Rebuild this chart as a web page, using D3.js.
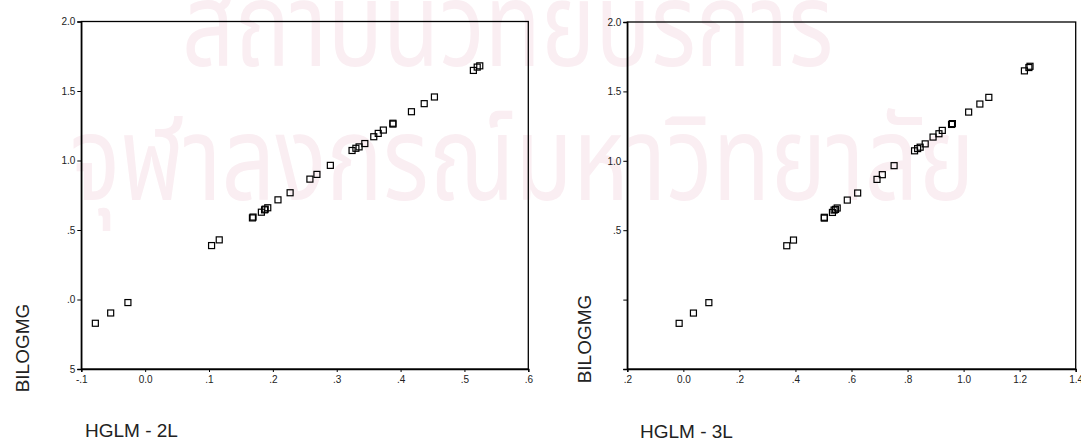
<!DOCTYPE html>
<html>
<head>
<meta charset="utf-8">
<script src="https://cdn.jsdelivr.net/npm/d3@7"></script>
<style>
  html, body { margin: 0; padding: 0; background: #fff; }
  svg { display: block; }
  .tick text { font-family: "Liberation Sans", Arial, sans-serif; font-size: 10px; fill: #222; }
  .title { font-family: "Liberation Sans", Arial, sans-serif; font-size: 19px; fill: #222; }
  .wm { font-family: "Noto Sans Thai", "Noto Sans", "Loma", "Garuda", "Norasi", sans-serif; font-size: 118px; fill: #faeef2; }
</style>
</head>
<body>
<svg id="chart" width="1081" height="442"></svg>
<script>
// BILOGMG score, shared by both panels (sorted ascending)
const bilogmg = [-0.171, -0.097, -0.022, 0.388, 0.429, 0.587, 0.593, 0.628, 0.645, 0.650,
  0.660, 0.717, 0.768, 0.866, 0.900, 0.965, 1.072, 1.088, 1.098, 1.122,
  1.171, 1.195, 1.219, 1.262, 1.268, 1.351, 1.409, 1.457, 1.648, 1.672, 1.681];

// Two-level HGLM estimates
const hglm2L = [-0.078, -0.054, -0.027, 0.104, 0.116, 0.168, 0.169, 0.182, 0.187, 0.188,
  0.192, 0.208, 0.227, 0.258, 0.269, 0.290, 0.324, 0.330, 0.335, 0.344,
  0.358, 0.365, 0.373, 0.388, 0.388, 0.417, 0.437, 0.453, 0.514, 0.520, 0.524];

// Three-level HGLM estimates
const hglm3L = [-0.015, 0.036, 0.091, 0.369, 0.393, 0.503, 0.503, 0.532, 0.538, 0.543,
  0.549, 0.585, 0.622, 0.691, 0.710, 0.752, 0.825, 0.836, 0.845, 0.863,
  0.891, 0.912, 0.924, 0.957, 0.960, 1.018, 1.058, 1.090, 1.217, 1.233, 1.237];

// Axis ticks and their printed labels
const yTicks = [-0.5, 0, 0.5, 1.0, 1.5, 2.0];
const yLabels2L = ["5", ".0", ".5", "1.0", "1.5", "2.0"];
const yLabels3L = ["", "", ".5", "1.0", "1.5", "2.0"];
const xTicks2L = [-0.1, 0, 0.1, 0.2, 0.3, 0.4, 0.5, 0.6];
const xLabels2L = ["-.1", "0.0", ".1", ".2", ".3", ".4", ".5", ".6"];
const xTicks3L = [-0.2, 0, 0.2, 0.4, 0.6, 0.8, 1.0, 1.2, 1.4];
const xLabels3L = [".2", "0.0", ".2", ".4", ".6", ".8", "1.0", "1.2", "1.4"];

const yTitle = "BILOGMG";
const xTitles = ["HGLM - 2L", "HGLM - 3L"];
const watermark = ["สถาบันวิทยบริการ", "จุฬาลงกรณ์มหาวิทยาลัย"];

const svg = d3.select("#chart");

// faint background watermark, horizontally condensed
const wm = svg.append("g");
wm.append("text").attr("class", "wm")
  .attr("transform", "translate(182,66) scale(0.78,1)").text(watermark[0]);
wm.append("text").attr("class", "wm")
  .attr("transform", "translate(70,200) scale(0.8,1)").text(watermark[1]);

const panels = [
  { xs: hglm2L, xTicks: xTicks2L, xLabels: xLabels2L, yLabels: yLabels2L,
    left: 81.3, right: 528.3, top: 21.5, bottom: 369, xDomain: [-0.1, 0.6],
    title: xTitles[0], titleX: 85, titleY: 437, yTitleX: 29, yTitleY: 348 },
  { xs: hglm3L, xTicks: xTicks3L, xLabels: xLabels3L, yLabels: yLabels3L,
    left: 627.3, right: 1075.7, top: 22, bottom: 369, xDomain: [-0.2, 1.4],
    title: xTitles[1], titleX: 640, titleY: 438, yTitleX: 591, yTitleY: 339 }
];

panels.forEach(p => {
  const x = d3.scaleLinear().domain(p.xDomain).range([p.left, p.right]);
  const y = d3.scaleLinear().domain([-0.5, 2.0]).range([p.bottom, p.top]);
  const g = svg.append("g");

  // frame
  g.append("rect")
    .attr("x", p.left).attr("y", p.top)
    .attr("width", p.right - p.left).attr("height", p.bottom - p.top)
    .attr("fill", "none").attr("stroke", "#000").attr("stroke-width", 1.3);

  const xAxis = d3.axisBottom(x).tickValues(p.xTicks).tickSize(3).tickPadding(4)
    .tickFormat((d, i) => p.xLabels[i]);
  const gx = g.append("g").attr("transform", `translate(0,${p.bottom})`).call(xAxis);
  gx.select(".domain").attr("stroke", "#000").attr("stroke-width", 1.3);
  gx.selectAll(".tick line").attr("stroke", "#000");

  const yAxis = d3.axisLeft(y).tickValues(yTicks).tickSize(4).tickPadding(2)
    .tickFormat((d, i) => p.yLabels[i]);
  const gy = g.append("g").attr("transform", `translate(${p.left},0)`).call(yAxis);
  gy.select(".domain").attr("stroke", "#000").attr("stroke-width", 1.3);
  gy.selectAll(".tick line").attr("stroke", "#000");

  // hollow square markers
  const s = 6;
  g.append("g").selectAll("rect")
    .data(p.xs.map((v, i) => [v, bilogmg[i]]))
    .join("rect")
    .attr("x", d => x(d[0]) - s / 2)
    .attr("y", d => y(d[1]) - s / 2)
    .attr("width", s).attr("height", s)
    .attr("fill", "none").attr("stroke", "#000").attr("stroke-width", 1.2);

  // axis titles
  g.append("text").attr("class", "title")
    .attr("transform", `translate(${p.yTitleX},${p.yTitleY}) rotate(-90)`)
    .attr("text-anchor", "middle").text(yTitle);
  g.append("text").attr("class", "title")
    .attr("x", p.titleX).attr("y", p.titleY).text(p.title);
});
</script>
</body>
</html>
